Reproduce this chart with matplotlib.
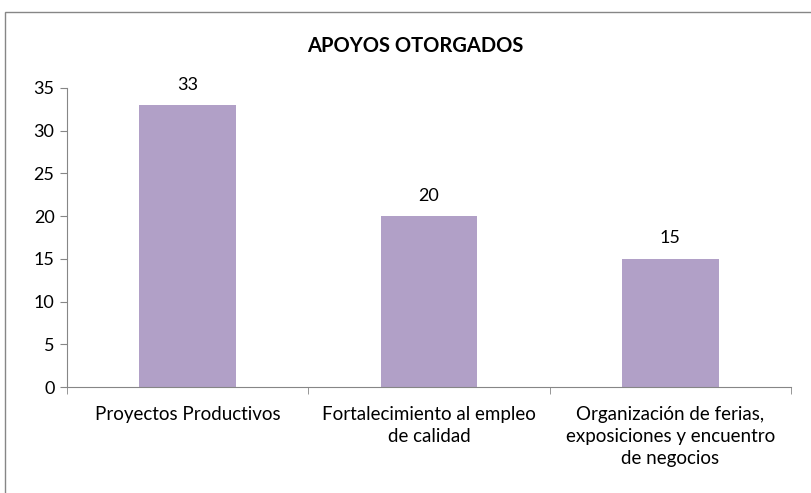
import matplotlib
matplotlib.use("Agg")
import matplotlib.pyplot as plt
from matplotlib.patches import Rectangle
import numpy as np

categories = ["Proyectos Productivos",
              "Fortalecimiento al empleo\nde calidad",
              "Organización de ferias,\nexposiciones y encuentro\nde negocios"]
values = [33, 20, 15]
yticks = [0, 5, 10, 15, 20, 25, 30, 35]
title = "APOYOS OTORGADOS"

plt.rcParams['font.family'] = ['Lato', 'DejaVu Sans']

W, H = 811, 493
fig = plt.figure(figsize=(W / 100, H / 100), dpi=100)
fig.patch.set_facecolor("white")

# outer chart border
fig.patches.append(Rectangle((5 / W, -0.5), 2, 1.5 - 12 / H, transform=fig.transFigure,
                             fill=False, edgecolor="#868686", linewidth=1.0))

ax = fig.add_axes([67 / W, 1 - 387 / H, (791 - 67) / W, (387 - 88) / H])
x = np.arange(len(categories))
ax.bar(x, values, width=0.4, color="#B1A0C7")
ax.set_xlim(-0.5, len(categories) - 0.5)
ax.set_ylim(0, 35)
ax.set_yticks(yticks)
ax.set_yticklabels([str(t) for t in yticks], fontsize=13)

ax.set_xticks(x)
ax.set_xticklabels(categories, fontsize=13.5, linespacing=1.35, va="top")
ax.tick_params(axis="x", which="major", length=0, pad=14)
ax.set_xticks(np.arange(len(categories) + 1) - 0.5, minor=True)
ax.tick_params(axis="x", which="minor", length=5, color="#868686", direction="out")
ax.tick_params(axis="y", length=5, color="#868686", direction="out", pad=4)

for s in ["top", "right"]:
    ax.spines[s].set_visible(False)
for s in ["left", "bottom"]:
    ax.spines[s].set_color("#868686")

for xi, v in zip(x, values):
    ax.annotate(str(v), (xi, v), xytext=(0, 9), textcoords="offset points",
                ha="center", va="bottom", fontsize=13)

fig.text(415 / W, 1 - 46 / H, title, ha="center", va="center",
         fontsize=14.5, fontweight="bold")

fig.savefig("out.png", dpi=100)
